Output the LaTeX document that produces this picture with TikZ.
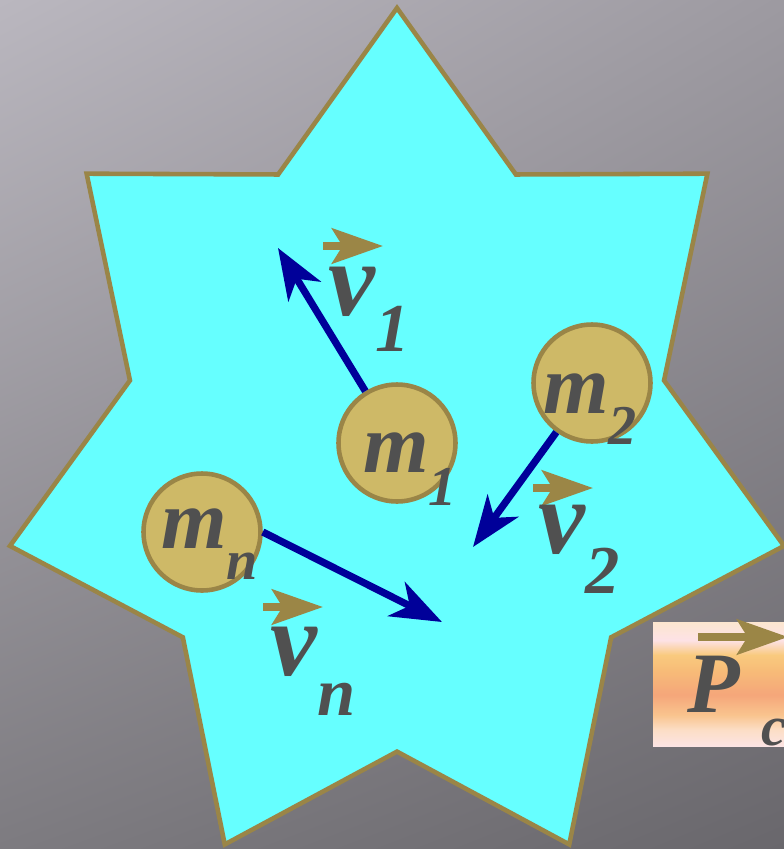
\documentclass[tikz,border=0pt]{standalone}
\usepackage{fontspec}
\setmainfont{Liberation Serif}
\usepackage{tikz}
\usetikzlibrary{arrows.meta, shadings}
\definecolor{bgul}{HTML}{BAB7BF}
\definecolor{bgur}{HTML}{9D9AA1}
\definecolor{bgll}{HTML}{7D7B80}
\definecolor{bglr}{HTML}{69676C}
\definecolor{starfill}{HTML}{66FFFF}
\definecolor{rim}{HTML}{9A8547}
\definecolor{massfill}{HTML}{CEB967}
\definecolor{txtgray}{HTML}{505050}
\definecolor{velblue}{HTML}{000099}
\definecolor{vecol}{HTML}{9B8646}
\definecolor{pca}{HTML}{FCE6CF}
\definecolor{pcb}{HTML}{FDE2E6}
\definecolor{pcc}{HTML}{F9CA7E}
\definecolor{pcd}{HTML}{F7BC78}
\definecolor{pce}{HTML}{F5A67A}
\definecolor{pcf}{HTML}{F9C48E}
\definecolor{pcg}{HTML}{FCDEC6}
\definecolor{pch}{HTML}{FCE4E4}
\pgfdeclareverticalshading{pcband}{100bp}{color(0bp)=(pch); color(25bp)=(pch); color(31.5bp)=(pcg); color(37.5bp)=(pcf); color(45.6bp)=(pce); color(55.6bp)=(pcd); color(61.7bp)=(pcc); color(67.7bp)=(pcb); color(75bp)=(pca); color(100bp)=(pca)}
\newcommand{\lowsub}[3]{\raisebox{-#1}{\fontsize{#2}{#2}\selectfont #3}}
\tikzset{
  starline/.style={draw=rim, fill=starfill, line width=2.6pt, line join=miter},
  mass/.style={circle, draw=rim, fill=massfill, line width=2.6pt, minimum size=2.34cm, inner sep=0pt},
  mlab/.style={inner sep=0pt, anchor=base west, text=txtgray, font=\bfseries\itshape\fontsize{48}{48}\selectfont},
  vlab/.style={inner sep=0pt, anchor=base west, text=txtgray, font=\bfseries\itshape\fontsize{60}{60}\selectfont},
  vel/.style={draw=velblue, line width=4.1pt, -{Stealth[length=29pt, width=21.6pt, inset=8.5pt]}},
  vec/.style={draw=vecol, line width=4.5pt, -{Stealth[length=29pt, width=20pt, inset=6pt]}}
}
\begin{document}
\begin{tikzpicture}[x=0.02cm, y=-0.02cm]
\useasboundingbox (0,0) rectangle (784,849);
\clip (0,0) rectangle (784,849);
\shade[upper left=bgul, upper right=bgur, lower left=bgll, lower right=bglr] (0,0) rectangle (784,849);

\draw[starline] (397,8) \foreach \i [evaluate=\i as \f using {1-0.31*mod(\i,2)}] in {1,...,13}
  { -- ({397+397*\f*cos(90+\i*180/7)}, {448-440*\f*sin(90+\i*180/7)}) } -- cycle;

\node[mass] (m1) at (397,443) {};
\node[mass] (m2) at (592,383) {};
\node[mass] (mn) at (202,532) {};

\coordinate (t1) at (278,248);
\coordinate (t2) at (473,547);
\coordinate (tn) at (442,622);
\draw[vel] (m1) -- (t1);
\draw[vel] (m2) -- (t2);
\draw[vel] (mn.east) -- (tn);

\node[mlab] (lm1) at (363,472) {m\lowsub{18.8pt}{32}{1}};
\node[mlab] (lm2) at (543,413) {m\lowsub{18.2pt}{32}{2}};
\node[mlab] (lmn) at (161,548) {m\lowsub{18.2pt}{32}{n}};

\foreach \x/\y in {323/246, 533/488, 263/607}
  \draw[vec] (\x,\y) -- ++(60,0);
\node[vlab] (lv1) at (328,315) {v\lowsub{21pt}{39}{1}};
\node[vlab] (lv2) at (538,553) {v\lowsub{22.8pt}{39}{2}};
\node[vlab] (lvn) at (270,675) {v\lowsub{22.8pt}{39}{n}};

\shade[shading=pcband] (653,622) rectangle (800,746);
\draw[vec] (698,637) -- ++(90,0);
\node[inner sep=0pt, anchor=base west, text=txtgray, font=\bfseries\itshape\fontsize{49}{49}\selectfont] (lpc) at (687,712) {P\kern12pt\lowsub{19pt}{32}{c}};
\end{tikzpicture}
\end{document}
